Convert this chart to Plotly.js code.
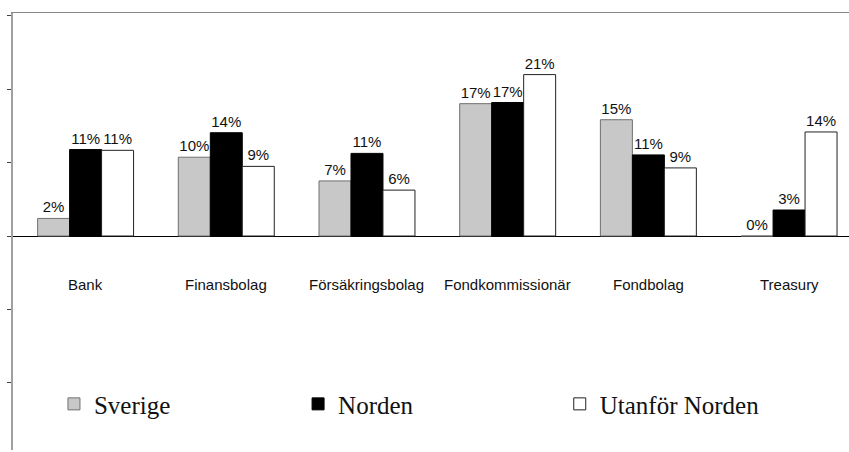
<!DOCTYPE html>
<html>
<head>
<meta charset="utf-8">
<script src="https://cdn.plot.ly/plotly-3.0.1.min.js"></script>
<style>html,body{margin:0;padding:0;background:#fff;}#chart{width:849px;height:452px;}</style>
</head>
<body>
<div id="chart"></div>
<script>
const categories = ["Bank", "Finansbolag", "Försäkringsbolag", "Fondkommissionär", "Fondbolag", "Treasury"];
const sverige = [2.3, 10.3, 7.2, 17.3, 15.2, 0];
const norden = [11.3, 13.5, 10.8, 17.45, 10.6, 3.4];
const utanfor = [11.2, 9.1, 6.0, 21.1, 8.9, 13.6];
const seriesNames = ["Sverige", "Norden", "Utanför Norden"];

const labelFont = {family: "Liberation Sans, Arial, sans-serif", size: 15, color: "#111"};
const legendFont = {family: "Liberation Serif, Times New Roman, serif", size: 25, color: "#111"};

function barTrace(name, values, fill, line, legendId) {
  return {
    type: "bar",
    name: name,
    legend: legendId,
    x: categories,
    y: values,
    marker: {color: fill, line: {color: line, width: 1}},
    texttemplate: "%{y:.0f}%",
    textposition: "outside",
    constraintext: "none",
    cliponaxis: false,
    textfont: labelFont,
    hoverinfo: "x+y"
  };
}

const data = [
  barTrace(seriesNames[0], sverige, "#c8c8c8", "#707070", "legend"),
  barTrace(seriesNames[1], norden, "#000000", "#000000", "legend2"),
  barTrace(seriesNames[2], utanfor, "#ffffff", "#222222", "legend3")
];

const annotations = categories.map(c => ({
  x: c, xref: "x", y: -6.3, yref: "y",
  text: c, showarrow: false, xanchor: "center", yanchor: "middle",
  font: labelFont
}));

function legendBox(xPos) {
  return {
    orientation: "h", x: xPos, xanchor: "left", y: 0.105, yanchor: "middle",
    font: legendFont, bgcolor: "rgba(0,0,0,0)", borderwidth: 0
  };
}

const layout = {
  width: 849, height: 452,
  margin: {l: 13, r: 0, t: 13, b: 2, pad: 0},
  paper_bgcolor: "#ffffff", plot_bgcolor: "#ffffff",
  barmode: "group", bargap: 0.318, bargroupgap: 0,
  showlegend: true,
  legend: legendBox(0.049),
  legend2: legendBox(0.341),
  legend3: legendBox(0.654),
  xaxis: {
    type: "category", range: [-0.516, 5.426], side: "top",
    showline: true, linecolor: "#888888", linewidth: 1,
    showticklabels: false, ticks: "", showgrid: false, zeroline: false, fixedrange: true
  },
  yaxis: {
    range: [-27.97, 29.15], tick0: 0, dtick: 9.6,
    showline: true, linecolor: "#a0a0a0", linewidth: 2,
    ticks: "outside", ticklen: 4, tickcolor: "#444444", tickwidth: 1,
    showticklabels: false, showgrid: false,
    zeroline: true, zerolinecolor: "#000000", zerolinewidth: 1, fixedrange: true
  },
  annotations: annotations
};

Plotly.newPlot("chart", data, layout, {displayModeBar: false, staticPlot: true});
</script>
</body>
</html>
